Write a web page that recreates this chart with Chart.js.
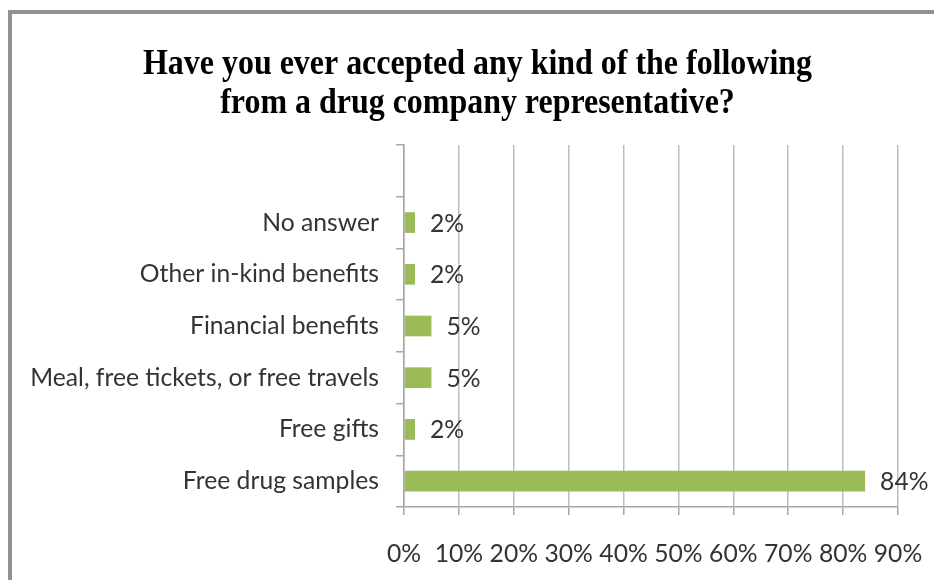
<!DOCTYPE html>
<html>
<head>
<meta charset="utf-8">
<script src="https://cdn.jsdelivr.net/npm/chart.js@4"></script>
<style>
    html, body { margin: 0; padding: 0; overflow: hidden; background: #fff; }
    #wrap { position: relative; width: 934px; height: 580px; }
    #frame {
        position: absolute; left: 8px; top: 10px; width: 1000px; height: 1000px;
        border: 4px solid #929292; box-sizing: border-box;
    }
    canvas { position: absolute; left: 0; top: 0; }
</style>
</head>
<body>
<div id="wrap">
    <div id="frame"></div>
    <canvas id="myChart" width="934" height="580"></canvas>
</div>
<script>

var titleLines = ['Have you ever accepted any kind of the following',
                  'from a drug company representative?'];

// top slot is left empty, as in the original sheet
var categories = ['', 'No answer', 'Other in-kind benefits', 'Financial benefits',
                  'Meal, free tickets, or free travels', 'Free gifts', 'Free drug samples'];
var percents = [null, 2, 2, 5, 5, 2, 84];

var xTicks = [0, 10, 20, 30, 40, 50, 60, 70, 80, 90];

var labelFont = '"Lato", "Open Sans", sans-serif';
var labelSize = 24.7;

// condensed serif title, squeezed horizontally
var titlePlugin = {
    id: 'squeezedTitle',
    afterDraw: function (chart) {
        var ctx = chart.ctx;
        ctx.save();
        ctx.font = 'bold 35px "Liberation Serif", "Times New Roman", serif';
        ctx.fillStyle = '#000';
        ctx.textAlign = 'center';
        ctx.textBaseline = 'alphabetic';
        var w = ctx.measureText(titleLines[0]).width;
        var sx = 669 / w;
        var cx = 477.5;
        var baselines = [74, 113];
        for (var i = 0; i < titleLines.length; i++) {
            ctx.save();
            ctx.translate(cx, baselines[i]);
            ctx.scale(sx, 1);
            ctx.fillText(titleLines[i], 0, 0);
            ctx.restore();
        }
        ctx.restore();
    }
};

// value labels to the right of each bar
var valuePlugin = {
    id: 'valueLabels',
    afterDatasetsDraw: function (chart) {
        var ctx = chart.ctx;
        var meta = chart.getDatasetMeta(0);
        ctx.save();
        ctx.font = labelSize + 'px ' + labelFont;
        ctx.fillStyle = '#333';
        ctx.textAlign = 'left';
        ctx.textBaseline = 'middle';
        meta.data.forEach(function (bar, i) {
            var v = percents[i];
            if (v === null) return;
            ctx.fillText(v + '%', bar.x + 15, bar.y + 1);
        });
        ctx.restore();
    }
};

var ctx = document.getElementById('myChart').getContext('2d');

var myChart = new Chart(ctx, {
    type: 'bar',
    data: {
        labels: categories,
        datasets: [{
            data: percents,
            backgroundColor: '#9bbb59',
            borderWidth: 0,
            categoryPercentage: 1,
            barPercentage: 0.4
        }]
    },
    options: {
        indexAxis: 'y',
        responsive: false,
        animation: false,
        events: [],
        layout: { padding: { top: 145, right: 36, left: 0, bottom: 0 } },
        plugins: {
            legend: { display: false },
            title: { display: false },
            tooltip: { enabled: false }
        },
        scales: {
            x: {
                min: 0,
                max: 90,
                afterBuildTicks: function (scale) {
                    scale.ticks = xTicks.map(function (v) { return { value: v }; });
                },
                afterFit: function (scale) {
                    scale.height = 580 - 507;
                    scale.paddingLeft = 0;
                    scale.paddingRight = 0;
                },
                grid: {
                    color: '#bdbdbd',
                    lineWidth: 1.5,
                    drawTicks: true,
                    tickLength: 8,
                    tickColor: '#a6a6a6'
                },
                border: { color: '#a6a6a6', width: 1.5 },
                ticks: {
                    padding: 24,
                    color: '#333',
                    font: { family: labelFont, size: labelSize },
                    callback: function (v) { return v + '%'; }
                }
            },
            y: {
                afterFit: function (scale) { scale.width = 404; },
                grid: {
                    drawOnChartArea: false,
                    drawTicks: true,
                    tickLength: 8,
                    tickColor: '#a6a6a6',
                    lineWidth: 1.5
                },
                border: { color: '#a6a6a6', width: 1.5 },
                ticks: {
                    padding: 17,
                    color: '#333',
                    font: { family: labelFont, size: labelSize }
                }
            }
        }
    },
    plugins: [titlePlugin, valuePlugin]
});
</script>
</body>
</html>
